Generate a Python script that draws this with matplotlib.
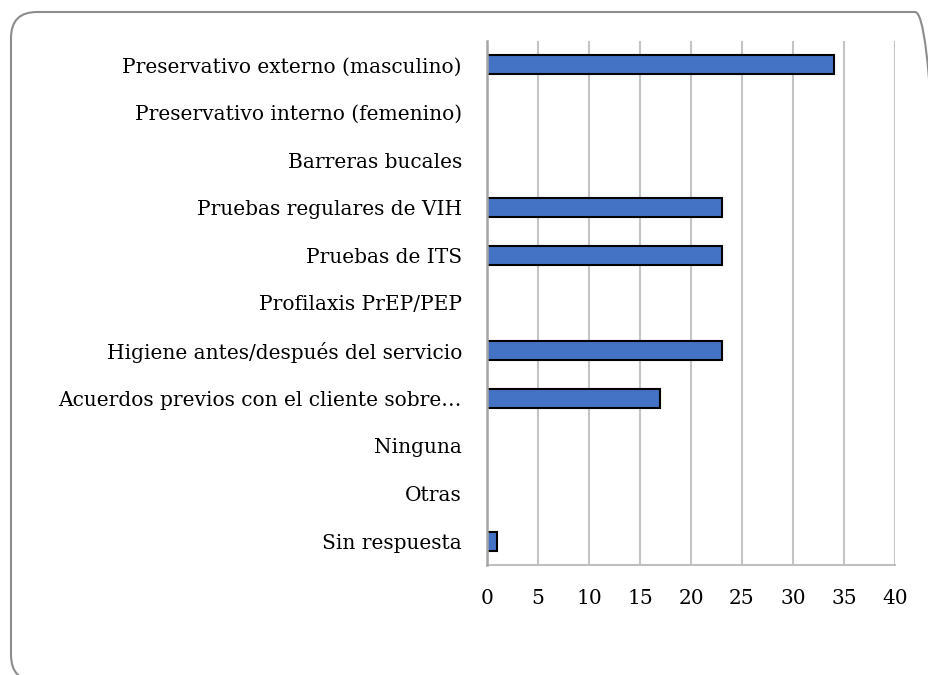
import matplotlib
matplotlib.use("Agg")
import matplotlib.pyplot as plt
from matplotlib.patches import FancyBboxPatch

categories = [
    "Preservativo externo (masculino)",
    "Preservativo interno (femenino)",
    "Barreras bucales",
    "Pruebas regulares de VIH",
    "Pruebas de ITS",
    "Profilaxis PrEP/PEP",
    "Higiene antes/después del servicio",
    "Acuerdos previos con el cliente sobre…",
    "Ninguna",
    "Otras",
    "Sin respuesta",
]
values = [34, 0, 0, 23, 23, 0, 23, 17, 0, 0, 1]
xticks = [0, 5, 10, 15, 20, 25, 30, 35, 40]

W, H = 929, 675
fig = plt.figure(figsize=(W / 100, H / 100), dpi=100)
fig.patch.set_facecolor("white")

# rounded chart border (display/pixel coordinates, origin bottom-left)
border = FancyBboxPatch((11, H - 681), 941 - 11, 681 - 12,
                        boxstyle="round,pad=0,rounding_size=26",
                        transform=None, facecolor="none",
                        edgecolor="#8c8c8c", linewidth=1.5, clip_on=False)
fig.patches.append(border)

ax = fig.add_axes([487 / W, 1 - 565 / H, (895 - 487) / W, (565 - 41) / H])
pos = list(range(len(categories)))
edge_widths = [1.5 if v > 0 else 0 for v in values]
ax.barh(pos, values, height=0.4, color="#4472C4", edgecolor="black",
        linewidth=edge_widths, zorder=3)
ax.set_ylim(len(categories) - 0.5, -0.5)
ax.set_xlim(0, 40)
ax.set_xticks(xticks)
ax.set_xticklabels([str(t) for t in xticks])
ax.set_yticks(pos)
ax.set_yticklabels(categories)
ax.xaxis.grid(True, color="#c4c4c4", linewidth=1.5, zorder=0)
ax.set_axisbelow(True)
for s in ["top", "right"]:
    ax.spines[s].set_visible(False)
ax.spines["left"].set_color("#a6a6a6")
ax.spines["left"].set_linewidth(1.8)
ax.spines["left"].set_zorder(4)
ax.spines["bottom"].set_color("#bfbfbf")
ax.spines["bottom"].set_linewidth(1.5)
ax.tick_params(axis="both", length=0, labelsize=14.5)
ax.tick_params(axis="y", pad=18)
ax.tick_params(axis="x", pad=17)
for lab in ax.get_xticklabels() + ax.get_yticklabels():
    lab.set_family("DejaVu Serif")
    lab.set_color("black")

fig.savefig("out.png", dpi=100)
